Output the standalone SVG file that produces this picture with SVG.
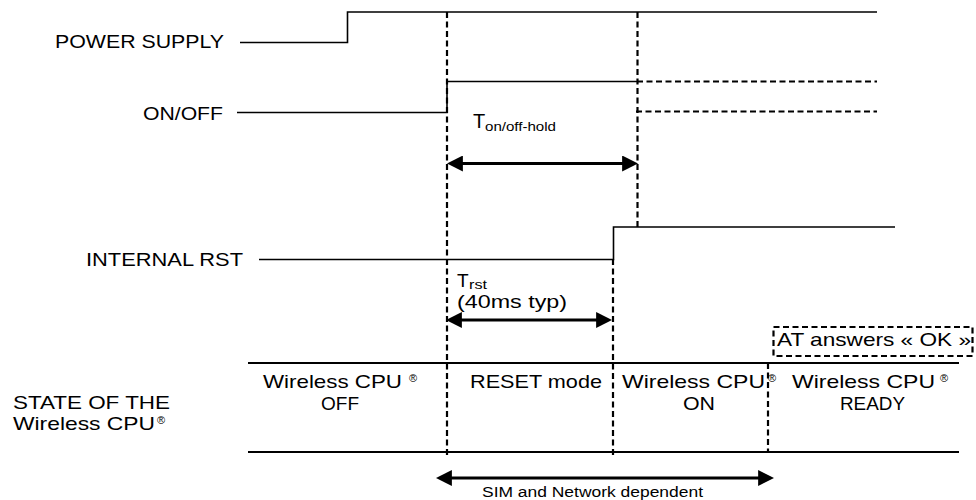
<svg xmlns="http://www.w3.org/2000/svg" width="976" height="500" viewBox="0 0 976 500">
<defs>
<style>
text{font-family:"Liberation Sans",Arial,Helvetica,sans-serif;fill:#000}
.lbl{font-size:19px}
.sub{font-size:13px}
.reg{font-size:11px}
.sig{fill:none;stroke:#000;stroke-width:1.6}
.dash{fill:none;stroke:#000;stroke-width:2.2;stroke-dasharray:6 3.5}
.row{fill:none;stroke:#000;stroke-width:2}
.arr{fill:none;stroke:#000;stroke-width:3.2;marker-start:url(#ah);marker-end:url(#ah)}
</style>
<marker id="ah" markerUnits="userSpaceOnUse" markerWidth="16" markerHeight="16" refX="6" refY="7" orient="auto-start-reverse" viewBox="0 0 14 14">
<path d="M0 0 L14 7 L0 14 Z" fill="#000"/>
</marker>
</defs>

<g id="power-supply">
<text class="lbl" x="55" y="48" textLength="169" lengthAdjust="spacingAndGlyphs">POWER SUPPLY</text>
<path class="sig" d="M240 42.5 H347.5 V12 H877"/>
</g>

<g id="on-off">
<text class="lbl" x="143" y="120" textLength="80" lengthAdjust="spacingAndGlyphs">ON/OFF</text>
<path class="sig" d="M237 112.5 H447 V81.5 H637"/>
<path class="dash" d="M637 81.5 H877 M636 111.5 H877"/>
</g>

<g id="internal-rst">
<text class="lbl" x="86" y="266" textLength="157" lengthAdjust="spacingAndGlyphs">INTERNAL RST</text>
<path class="sig" d="M259 259.5 H613.5 V227 H895"/>
</g>

<g id="state-label">
<text class="lbl" x="13" y="409" textLength="157" lengthAdjust="spacingAndGlyphs">STATE OF THE</text>
<text class="lbl" x="13" y="430" textLength="142" lengthAdjust="spacingAndGlyphs">Wireless CPU</text>
<text class="reg" x="157" y="424">®</text>
</g>

<g id="state-rows">
<path class="row" d="M248 363 H959 M248 452 H959"/>
</g>

<g id="state-off">
<text class="lbl" x="263" y="388" textLength="139" lengthAdjust="spacingAndGlyphs">Wireless CPU</text>
<text class="reg" x="409" y="382">®</text>
<text class="lbl" x="340" y="410" text-anchor="middle">OFF</text>
</g>

<g id="state-reset">
<text class="lbl" x="470" y="388" textLength="132" lengthAdjust="spacingAndGlyphs">RESET mode</text>
</g>

<g id="state-on">
<text class="lbl" x="622" y="388" textLength="143" lengthAdjust="spacingAndGlyphs">Wireless CPU</text>
<text class="reg" x="768" y="382">®</text>
<text class="lbl" x="683" y="410" textLength="32" lengthAdjust="spacingAndGlyphs">ON</text>
</g>

<g id="state-ready">
<text class="lbl" x="792" y="388" textLength="143" lengthAdjust="spacingAndGlyphs">Wireless CPU</text>
<text class="reg" x="940" y="382">®</text>
<text class="lbl" x="840" y="410" textLength="65" lengthAdjust="spacingAndGlyphs">READY</text>
</g>

<g id="at-ok">
<rect class="dash" x="773.5" y="327" width="199" height="29"/>
<text class="lbl" x="777" y="346" textLength="194" lengthAdjust="spacingAndGlyphs">AT answers « OK »</text>
</g>

<g id="t-onoff-hold">
<text x="473" y="128" font-size="20">T</text>
<text class="sub" x="485" y="131" textLength="71" lengthAdjust="spacingAndGlyphs">on/off-hold</text>
</g>

<g id="t-rst">
<text class="lbl" x="457" y="287">T</text>
<text class="sub" x="469" y="289" textLength="18" lengthAdjust="spacingAndGlyphs">rst</text>
<text class="lbl" x="457" y="308" textLength="110" lengthAdjust="spacingAndGlyphs">(40ms typ)</text>
</g>

<g id="sim-label">
<text x="482" y="497" font-size="14" textLength="221" lengthAdjust="spacingAndGlyphs">SIM and Network dependent</text>
</g>

<g id="connectors">
<path class="dash" d="M447 12 V455"/>
<path class="dash" d="M637.5 12 V227"/>
<path class="dash" d="M613 259 V456"/>
<path class="dash" d="M768 363 V452"/>
<line class="arr" x1="456" y1="163.5" x2="629" y2="163.5"/>
<line class="arr" x1="455" y1="320" x2="603" y2="320"/>
<line class="arr" x1="445" y1="478" x2="765" y2="478"/>
</g>
</svg>
